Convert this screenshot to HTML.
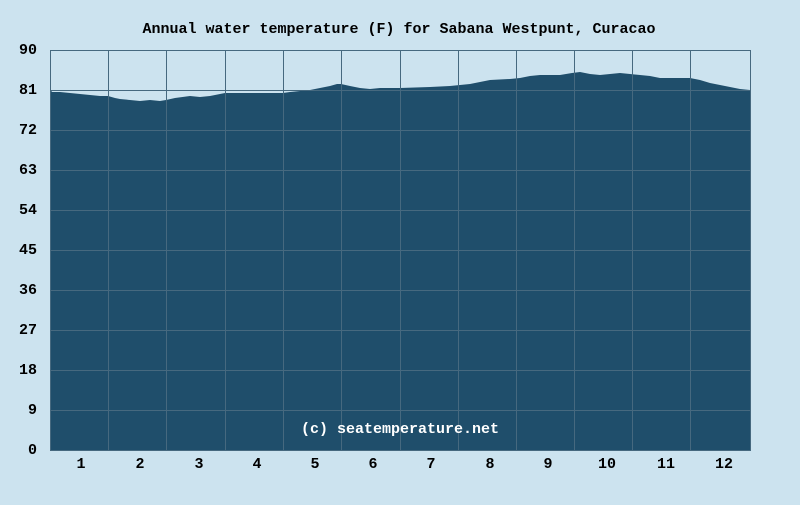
<!DOCTYPE html>
<html><head><style>body{margin:0;background:#cce3ef}</style></head><body>
<svg width="800" height="500" xmlns="http://www.w3.org/2000/svg" font-family="Liberation Mono, monospace" font-size="15" font-weight="bold">
<rect width="800" height="500" fill="#cce3ef"/>
<text x="399" y="33" text-anchor="middle" fill="#000">Annual water temperature (F) for Sabana Westpunt, Curacao</text>
<polygon fill="#1f4e6b" points="50,450 50,89 52,92 60,92 70,93 80,94 90,95 100,96 108,96 115,98 120,99 130,100 140,101 150,100 160,101 166,100 175,98 190,96 200,97 210,96 225,93 240,93 260,93 283,93 290,92 300,91 310,90 320,88 330,86 337,84 341,84 350,86 360,88 370,89 380,88 400,88 430,87 450,86 460,85 470,84 480,82 490,80 510,79 520,78 530,76 540,75 560,75 572,73 580,72 590,74 600,75 610,74 620,73 630,74 640,75 650,76 660,78 690,78 700,80 710,83 720,85 730,87 740,89 750,90 750,450"/>
<g stroke="#46697f" stroke-width="1" fill="none">
<rect x="50.5" y="50.5" width="700" height="400"/>
<path d="M50 90.5H750M50 130.5H750M50 170.5H750M50 210.5H750M50 250.5H750M50 290.5H750M50 330.5H750M50 370.5H750M50 410.5H750"/>
<path d="M108.5 50V450M166.5 50V450M225.5 50V450M283.5 50V450M341.5 50V450M400.5 50V450M458.5 50V450M516.5 50V450M574.5 50V450M632.5 50V450M690.5 50V450"/>
</g>
<g fill="#000" text-anchor="end">
<text x="37" y="54">90</text><text x="37" y="94">81</text><text x="37" y="134">72</text><text x="37" y="174">63</text><text x="37" y="214">54</text><text x="37" y="254">45</text><text x="37" y="294">36</text><text x="37" y="334">27</text><text x="37" y="374">18</text><text x="37" y="414">9</text><text x="37" y="454">0</text>
</g>
<g fill="#000" text-anchor="middle">
<text x="81" y="468">1</text><text x="140" y="468">2</text><text x="199" y="468">3</text><text x="257" y="468">4</text><text x="315" y="468">5</text><text x="373" y="468">6</text><text x="431" y="468">7</text><text x="490" y="468">8</text><text x="548" y="468">9</text><text x="607" y="468">10</text><text x="666" y="468">11</text><text x="724" y="468">12</text>
</g>
<text x="400" y="433" text-anchor="middle" fill="#fff">(c) seatemperature.net</text>
</svg>
</body></html>
